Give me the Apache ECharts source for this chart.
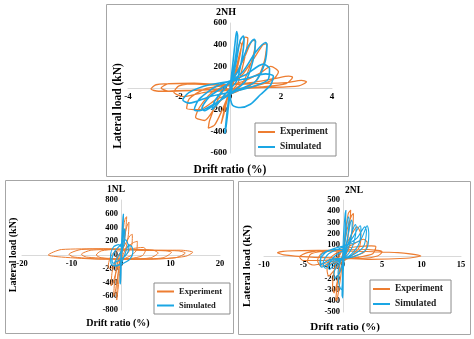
<!DOCTYPE html>
<html><head><meta charset="utf-8">
<script src="https://cdn.jsdelivr.net/npm/echarts@6/dist/echarts.min.js"></script>
<style>html,body{margin:0;padding:0;background:#fff}#c{width:474px;height:339px}</style>
</head><body><div id="c"></div>
<script>
// ---- data (drift %, lateral load kN) ----
const titles = ['2NH', '1NL', '2NL'];
const seriesNames = ['Experiment', 'Simulated'];
const xTicks2NH = [-4, 4, 2];
const yTicks2NH = [-600, 600, 200];
const xTicks1NL = [-20, 20, 10];
const yTicks1NL = [-800, 800, 200];
const xTicks2NL = [-10, 15, 5];
const yTicks2NL = [-500, 500, 100];

const exp2NH = [
[0,0],[0.1,120],[0.25,300],[0.4,420],[0.45,400],[0.3,200],[0.1,20],[-0.1,-100],[-0.25,-250],[-0.35,-330],[-0.3,-280],[-0.15,-120],[0,-10],
[0.2,150],[0.45,380],[0.6,470],[0.7,460],[0.55,250],[0.3,40],[0,-40],[-0.3,-200],[-0.6,-340],[-0.85,-370],[-0.8,-300],[-0.5,-120],[-0.2,0],
[0.2,120],[0.6,300],[0.9,440],[1.0,430],[0.85,250],[0.5,50],[0,-40],[-0.5,-150],[-1.0,-300],[-1.35,-270],[-1.2,-180],[-0.7,-40],[-0.2,20],
[0.4,100],[0.9,260],[1.3,400],[1.45,410],[1.35,250],[1.0,60],[0.3,-30],[-0.5,-100],[-1.2,-200],[-1.7,-190],[-1.6,-100],[-1.0,-10],[-0.3,20],
[0.5,60],[1.2,140],[1.6,200],[1.9,150],[1.7,80],[1.0,20],[0,-20],[-1.0,-40],[-1.8,-80],[-2.2,-40],[-2.0,20],[-1.2,40],[-0.3,30],
[0.8,50],[1.8,90],[2.3,110],[2.45,100],[2.2,40],[1.2,10],[0,-10],[-1.2,-20],[-2.4,-30],[-2.7,0],[-2.4,40],[-1.4,45],[-0.3,30],
[1.0,40],[2.2,50],[2.8,70],[3.0,58],[2.7,20],[1.5,5],[0,-5],[-1.5,-20],[-2.8,-30],[-3.1,-10],[-2.9,30],[-2.0,40],[-0.8,30],[0,20]
];
const sim2NH = [
[0,0],[0.1,200],[0.2,420],[0.26,520],[0.3,480],[0.2,250],[0.05,40],[-0.05,-150],[-0.15,-350],[-0.2,-420],[-0.15,-300],[-0.05,-100],[0.05,20],
[0.25,250],[0.4,440],[0.52,480],[0.55,450],[0.45,250],[0.25,60],[-0.2,-60],[-0.5,-150],[-0.7,-200],[-0.6,-120],[-0.2,0],
[0.3,150],[0.7,380],[0.95,450],[1.0,430],[0.9,250],[0.6,60],[0,-50],[-0.6,-150],[-1.0,-210],[-1.1,-190],[-0.8,-80],[-0.2,20],
[0.5,150],[1.0,330],[1.4,420],[1.45,400],[1.35,220],[1.0,60],[0.3,-20],[-0.5,-130],[-1.2,-210],[-1.4,-200],[-1.2,-100],[-0.5,20],
[0.6,120],[1.3,220],[1.55,180],[1.5,80],[1.0,20],[0.2,-30],[-0.8,-80],[-1.6,-140],[-1.85,-110],[-1.6,-40],[-0.8,30],
[0.5,80],[1.4,130],[1.7,110],[1.6,30],[1.2,-60],[0.8,-150],[0.4,-180],[0.1,-160],[0,-60],[0.1,0]
];
const exp1NL = [
[0,0],[0.3,250],[0.6,450],[0.9,540],[1.15,557],[1.0,400],[0.6,150],[0.2,0],[-0.2,-200],[-0.6,-500],[-0.87,-655],[-0.8,-500],[-0.5,-200],[-0.1,0],
[0.5,200],[1.2,420],[1.6,480],[1.5,300],[1.0,100],[0.3,-20],[-0.5,-250],[-1.2,-550],[-1.5,-600],[-1.3,-400],[-0.8,-150],[-0.2,20],
[0.8,150],[1.8,280],[2.3,300],[2.2,150],[1.5,40],[0.3,-40],[-0.8,-200],[-1.6,-400],[-2.0,-450],[-1.8,-250],[-1.0,-50],[-0.2,30],
[1.0,100],[2.5,180],[3.3,200],[3.2,80],[2.2,0],[0.5,-60],[-1.0,-120],[-2.2,-200],[-2.6,-180],[-2.2,-40],[-1.0,60],[0,60],
[2,90],[4.5,110],[5.0,80],[4.3,-10],[2.0,-50],[-1,-60],[-4,-40],[-5,0],[-4,60],[-1,80],
[3,80],[6.5,70],[7.5,30],[6,-40],[2,-60],[-2,-50],[-7,-30],[-8,10],[-6,70],[-1,80],
[4,70],[9,60],[10.2,40],[8.5,-40],[3,-60],[-3,-60],[-9.5,-30],[-10.5,10],[-8,80],[-1,90],
[5,70],[11.5,60],[13,30],[11,-40],[4,-60],[-4,-60],[-12,-30],[-14.7,0],[-12,80],[-4,90],
[5,70],[12,70],[14.5,40],[13,-20],[6,-60],[0,-50]
];
const sim1NL = [
[0,0],[0.2,300],[0.4,550],[0.5,600],[0.45,450],[0.3,200],[0,0],[-0.1,-200],[-0.2,-380],[-0.1,-420],[0,-250],[0.1,0],
[0.4,200],[0.7,380],[0.8,350],[0.6,150],[0,50],[-0.8,-50],[-1.2,-120],[-1.0,-150],[0,-120],[0.6,-30],
[1.2,100],[1.6,160],[1.5,60],[0.8,-20],[-0.5,-80],[-1.6,-120],[-1.8,-60],[-1.2,60],[-0.2,140],[0.5,200],[1.0,220],
[1.5,150],[2.2,120],[2.4,40],[1.8,-60],[0.5,-120],[-1.0,-160],[-2.0,-130],[-2.1,0],[-1.5,120],[-0.5,150],[0.3,80],[0,0]
];
const exp2NL = [
[0,0],[0.3,200],[0.7,380],[1.0,410],[0.9,300],[0.5,100],[0,-40],[-0.3,-200],[-0.7,-380],[-0.9,-400],[-0.7,-250],[-0.3,-50],[0,20],
[0.6,250],[1.1,360],[1.35,380],[1.25,250],[0.8,80],[0,-50],[-0.6,-200],[-1.1,-330],[-1.3,-260],[-1.0,-100],[-0.3,20],
[0.8,150],[1.8,260],[2.3,188],[2.1,80],[1.2,10],[0,-50],[-1.0,-120],[-1.8,-180],[-2.0,-120],[-1.6,-20],[-0.5,40],
[1.2,100],[2.6,150],[3.1,120],[2.8,40],[1.5,0],[0,-40],[-1.5,-70],[-2.8,-90],[-3.2,-40],[-2.6,30],[-1,50],
[1.5,80],[3.6,90],[4.2,83],[3.8,20],[2,-10],[0,-30],[-2,-60],[-3.8,-80],[-4.5,-50],[-4.0,20],[-1.5,50],
[2,60],[4.4,50],[5.0,36],[4.4,0],[2.5,-20],[0,-20],[-2.5,-40],[-5,-40],[-5.5,-10],[-4.5,30],[-2,50],
[3,40],[7,30],[9.9,0],[8,-20],[3.5,-30],[0,-20],[-4,-10],[-7.5,10],[-8.3,30],[-7,45],[-3,50],[0,40]
];
const sim2NL = [
[0,0],[0.1,200],[0.3,380],[0.4,410],[0.35,300],[0.2,100],[0,0],[-0.05,-200],[-0.1,-350],[0,-375],[0.05,-200],[0.1,0],
[0.4,200],[0.7,350],[0.8,330],[0.6,150],[0.2,30],[-0.3,-50],[-0.6,-150],[-0.5,-250],[-0.2,-300],[0,-200],[0.2,0],
[0.7,200],[1.1,320],[1.2,300],[1.0,150],[0.4,20],[-0.5,-60],[-1.1,-150],[-1.0,-200],[-0.4,-150],[0.2,0],
[1.0,180],[1.6,280],[1.7,260],[1.4,120],[0.6,10],[-0.8,-60],[-1.7,-120],[-1.8,-80],[-1.0,0],[0.2,60],
[1.4,180],[2.2,270],[2.3,240],[2.0,100],[0.8,0],[-1.0,-50],[-2.2,-110],[-2.5,-60],[-1.8,20],[0,80],
[1.8,160],[2.8,260],[3.0,220],[2.6,80],[1,0],[-1.2,-40],[-2.7,-100],[-2.9,-40],[-2.0,40],[0,90],
[2.2,140],[3.1,270],[3.3,200],[3.0,60],[1.2,-10],[-1.5,-30],[-2.8,-80],[-2.8,0],[-1.8,50],[0,60]
];

// ---- styling ----
const ORANGE = '#ED7D31', BLUE = '#1AA6E4';
const SERIF = '"Liberation Serif", "DejaVu Serif", serif';
const chart = echarts.init(document.getElementById('c'), null, {renderer: 'canvas'});

// offsets move each axis (line + labels) to the zero of the other axis
function xAx(idx, t, fs, off) {
  return {gridIndex: idx, type: 'value', min: t[0], max: t[1], interval: t[2], offset: off,
    axisLine: {onZero: false, lineStyle: {color: '#d9d9d9', width: 1}},
    axisTick: {show: false}, splitLine: {show: false},
    axisLabel: {margin: 4, color: '#000', fontFamily: SERIF, fontWeight: 'bold', fontSize: fs}};
}
function yAx(idx, t, fs, off) {
  return {gridIndex: idx, type: 'value', min: t[0], max: t[1], interval: t[2], offset: off,
    axisLine: {onZero: false, lineStyle: {color: '#d9d9d9', width: 1}},
    axisTick: {show: false}, splitLine: {show: false},
    axisLabel: {margin: 3, color: '#000', fontFamily: SERIF, fontWeight: 'bold', fontSize: fs}};
}
function ser(name, data, idx, color, w) {
  return {name: name, type: 'line', data: data, xAxisIndex: idx, yAxisIndex: idx,
    symbol: 'none', smooth: 0.25, color: color, lineStyle: {color: color, width: w}};
}
function legend(left, top, fs) {
  return {data: seriesNames, orient: 'vertical', left: left, top: top, icon: 'rect',
    itemWidth: 17, itemHeight: 2, itemGap: 5, padding: [4, 8, 4, 3],
    borderColor: '#8c8c8c', borderWidth: 1,
    textStyle: {fontFamily: SERIF, fontWeight: 'bold', fontSize: fs, color: '#222'}};
}
function txt(x, y, s, fs, rot) {
  return {type: 'text', x: x, y: y, rotation: rot || 0,
    style: {text: s, fontFamily: SERIF, fontWeight: 'bold', fontSize: fs, fill: '#000',
      textAlign: 'center', textVerticalAlign: 'middle'}};
}
function box(x1, y1, x2, y2) {
  return {type: 'rect', shape: {x: x1 + 0.5, y: y1 + 0.5, width: x2 - x1, height: y2 - y1},
    style: {fill: 'none', stroke: '#a6a6a6', lineWidth: 1}, z: -1};
}

const option = {
  animation: false,
  backgroundColor: '#fff',
  grid: [
    {left: 128, top: 23, width: 204, height: 130},
    {left: 22, top: 200, width: 198, height: 110},
    {left: 264, top: 200, width: 197, height: 112}
  ],
  xAxis: [xAx(0, xTicks2NH, 9, -65), xAx(1, xTicks1NL, 8.5, -55), xAx(2, xTicks2NL, 8.5, -56)],
  yAxis: [yAx(0, yTicks2NH, 9, -102), yAx(1, yTicks1NL, 8.5, -99), yAx(2, yTicks2NL, 8.5, -79)],
  legend: [legend(255, 123, 9.5), legend(154, 283, 8.5), legend(370, 280, 9.5)],
  series: [
    ser(seriesNames[0], exp2NH, 0, ORANGE, 1.3),
    ser(seriesNames[1], sim2NH, 0, BLUE, 1.6),
    ser(seriesNames[0], exp1NL, 1, ORANGE, 1),
    ser(seriesNames[1], sim1NL, 1, BLUE, 1.2),
    ser(seriesNames[0], exp2NL, 2, ORANGE, 1.1),
    ser(seriesNames[1], sim2NL, 2, BLUE, 1.1)
  ],
  graphic: [
    box(106, 4, 348, 176),
    box(5, 180, 233, 333),
    box(238, 181, 470, 334),
    txt(226, 12, titles[0], 10),
    txt(116, 190, titles[1], 9.5),
    txt(354, 191, titles[2], 9.5),
    txt(118, 106, 'Lateral load (kN)', 11.5, Math.PI / 2),
    txt(230, 170, 'Drift ratio (%)', 11.5),
    txt(13, 255, 'Lateral load (kN)', 10, Math.PI / 2),
    txt(118, 323, 'Drift ratio (%)', 10),
    txt(247, 266, 'Lateral load (kN)', 11, Math.PI / 2),
    txt(345, 327, 'Drift ratio (%)', 11)
  ]
};
chart.setOption(option);
</script></body></html>
